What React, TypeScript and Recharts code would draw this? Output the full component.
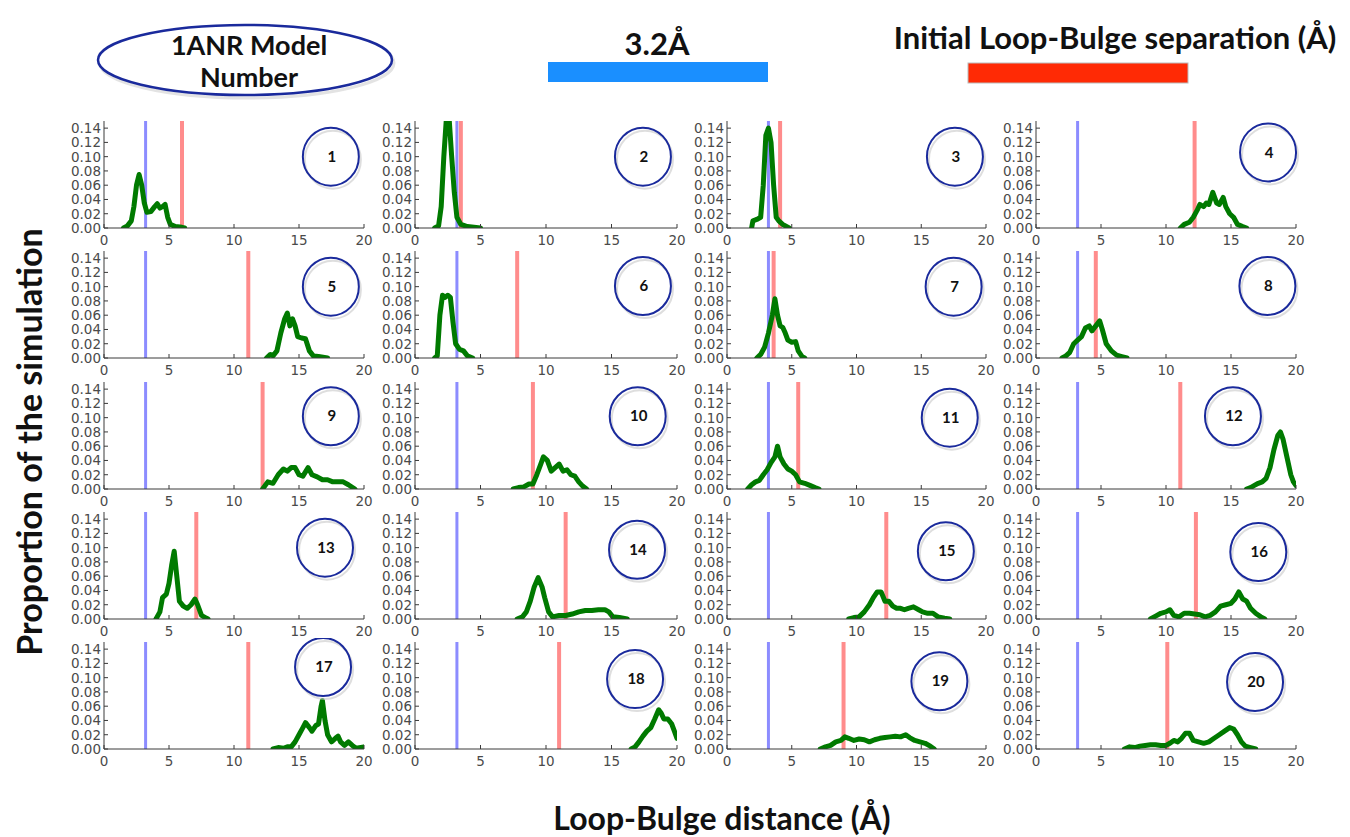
import React from 'react';
import { LineChart, Line, XAxis, YAxis, ReferenceLine, ReferenceDot } from 'recharts';

// distance (Å) vs proportion, one array per model
const p1 = [[1.5,0],[1.8,0.003],[2.1,0.01],[2.3,0.03],[2.5,0.06],[2.7,0.075],[2.9,0.06],[3.1,0.035],[3.3,0.022],[3.6,0.023],[3.9,0.03],[4.1,0.034],[4.3,0.028],[4.5,0.03],[4.7,0.033],[4.9,0.015],[5.1,0.005],[5.5,0.002],[6.0,0.001],[6.2,0]];
const p2 = [[1.5,0],[1.8,0.003],[2.0,0.03],[2.2,0.1],[2.4,0.155],[2.6,0.155],[2.8,0.1],[3.0,0.05],[3.2,0.015],[3.5,0.005],[4.0,0.002],[5.0,0]];
const p3 = [[1.9,0],[2.0,0.01],[2.3,0.012],[2.6,0.015],[2.8,0.06],[3.0,0.13],[3.2,0.14],[3.4,0.12],[3.6,0.06],[3.8,0.015],[4.0,0.01],[4.3,0.005],[4.8,0]];
const p4 = [[11.1,0],[11.4,0.005],[11.8,0.008],[12.1,0.015],[12.4,0.025],[12.6,0.033],[12.9,0.03],[13.1,0.035],[13.3,0.033],[13.6,0.05],[13.9,0.035],[14.1,0.033],[14.4,0.043],[14.6,0.03],[14.9,0.02],[15.2,0.015],[15.5,0.005],[15.9,0.002],[16.2,0]];
const p5 = [[12.5,0],[12.8,0.005],[13.0,0.003],[13.3,0.01],[13.6,0.035],[13.9,0.055],[14.1,0.063],[14.3,0.045],[14.5,0.055],[14.7,0.045],[14.9,0.03],[15.2,0.028],[15.5,0.027],[15.8,0.01],[16.1,0.003],[16.5,0.002],[17.2,0]];
const p6 = [[1.5,0],[1.7,0.003],[1.9,0.06],[2.1,0.088],[2.3,0.085],[2.5,0.088],[2.7,0.085],[2.9,0.05],[3.1,0.02],[3.4,0.012],[3.7,0.01],[4.0,0.003],[4.4,0]];
const p7 = [[2.3,0],[2.6,0.005],[2.9,0.015],[3.2,0.035],[3.5,0.06],[3.7,0.083],[3.9,0.06],[4.1,0.045],[4.3,0.043],[4.5,0.035],[4.7,0.025],[5.0,0.022],[5.3,0.023],[5.5,0.01],[5.8,0.002],[6.0,0]];
const p8 = [[2.0,0],[2.3,0.003],[2.6,0.008],[2.9,0.02],[3.2,0.025],[3.5,0.03],[3.8,0.042],[4.1,0.045],[4.3,0.038],[4.6,0.045],[4.9,0.052],[5.1,0.04],[5.4,0.02],[5.8,0.01],[6.2,0.004],[6.6,0.002],[7.0,0]];
const p9 = [[12.2,0],[12.6,0.01],[13.0,0.008],[13.4,0.02],[13.8,0.028],[14.1,0.025],[14.4,0.03],[14.7,0.03],[15.0,0.02],[15.3,0.018],[15.7,0.03],[16.0,0.02],[16.4,0.017],[16.8,0.013],[17.2,0.013],[17.6,0.01],[18.0,0.01],[18.4,0.01],[18.8,0.006],[19.3,0]];
const p10 = [[7.5,0],[7.9,0.002],[8.3,0.003],[8.7,0.007],[9.0,0.007],[9.3,0.02],[9.6,0.035],[9.8,0.045],[10.1,0.04],[10.4,0.025],[10.7,0.03],[11.0,0.035],[11.3,0.025],[11.6,0.027],[11.9,0.02],[12.2,0.018],[12.5,0.01],[12.8,0.004],[13.1,0]];
const p11 = [[1.6,0],[1.9,0.006],[2.2,0.01],[2.5,0.012],[2.8,0.02],[3.1,0.027],[3.4,0.037],[3.7,0.045],[3.9,0.06],[4.1,0.045],[4.4,0.035],[4.7,0.028],[5.0,0.025],[5.3,0.02],[5.6,0.01],[6.0,0.008],[6.4,0.005],[6.8,0.002],[7.1,0]];
const p12 = [[16.2,0],[16.5,0.002],[16.8,0.005],[17.1,0.008],[17.4,0.01],[17.7,0.015],[18.0,0.03],[18.3,0.055],[18.6,0.075],[18.8,0.08],[19.0,0.07],[19.3,0.045],[19.6,0.02],[19.8,0.01],[20.0,0.005]];
const p13 = [[4.0,0],[4.3,0.01],[4.5,0.03],[4.8,0.035],[5.0,0.05],[5.2,0.075],[5.4,0.095],[5.6,0.06],[5.8,0.025],[6.1,0.018],[6.4,0.015],[6.7,0.02],[7.0,0.028],[7.2,0.02],[7.5,0.005],[7.8,0.002],[8.0,0]];
const p14 = [[7.8,0],[8.2,0.003],[8.5,0.01],[8.8,0.025],[9.1,0.045],[9.4,0.058],[9.7,0.045],[9.9,0.03],[10.2,0.01],[10.5,0.003],[11.0,0.005],[11.5,0.005],[12.0,0.007],[12.5,0.01],[13.0,0.012],[13.5,0.012],[14.0,0.013],[14.5,0.013],[14.8,0.01],[15.1,0.003],[15.6,0.002],[16.2,0]];
const p15 = [[9.4,0],[9.8,0.002],[10.2,0.003],[10.6,0.01],[11.0,0.02],[11.3,0.03],[11.6,0.038],[11.9,0.038],[12.2,0.025],[12.5,0.025],[12.8,0.018],[13.1,0.015],[13.4,0.015],[13.7,0.013],[14.0,0.015],[14.4,0.017],[14.8,0.013],[15.1,0.01],[15.5,0.008],[15.9,0.008],[16.3,0.003],[16.8,0.001],[17.2,0]];
const p16 = [[8.8,0],[9.2,0.004],[9.6,0.008],[10.0,0.01],[10.3,0.013],[10.6,0.005],[11.0,0.003],[11.4,0.008],[11.8,0.008],[12.2,0.007],[12.6,0.006],[13.0,0.003],[13.4,0.005],[13.8,0.01],[14.2,0.018],[14.6,0.02],[15.0,0.022],[15.3,0.028],[15.6,0.038],[15.9,0.028],[16.2,0.025],[16.5,0.015],[16.9,0.008],[17.3,0.003],[17.6,0]];
const p17 = [[13.0,0],[13.4,0.002],[13.8,0.001],[14.1,0.003],[14.4,0.003],[14.7,0.01],[15.0,0.02],[15.3,0.03],[15.5,0.037],[15.8,0.03],[16.0,0.025],[16.3,0.033],[16.5,0.035],[16.7,0.06],[16.8,0.068],[17.0,0.04],[17.2,0.02],[17.5,0.01],[17.8,0.015],[18.0,0.018],[18.2,0.01],[18.5,0.005],[18.8,0.01],[19.1,0.005],[19.4,0.001],[20.0,0.003]];
const p18 = [[16.5,0],[16.8,0.003],[17.1,0.01],[17.4,0.018],[17.7,0.025],[18.0,0.03],[18.3,0.042],[18.6,0.055],[18.8,0.05],[19.0,0.042],[19.3,0.042],[19.6,0.035],[19.8,0.025],[20.0,0.015]];
const p19 = [[7.2,0],[7.6,0.003],[8.0,0.005],[8.4,0.01],[8.8,0.012],[9.1,0.017],[9.4,0.015],[9.8,0.012],[10.2,0.014],[10.6,0.013],[11.0,0.01],[11.4,0.013],[11.8,0.015],[12.2,0.016],[12.6,0.017],[13.0,0.018],[13.4,0.017],[13.8,0.02],[14.1,0.016],[14.5,0.012],[14.9,0.01],[15.3,0.008],[15.7,0.004],[16.0,0]];
const p20 = [[6.8,0],[7.2,0.003],[7.6,0.002],[8.0,0.004],[8.4,0.005],[8.8,0.006],[9.2,0.006],[9.6,0.005],[10.0,0.005],[10.3,0.008],[10.6,0.012],[10.9,0.01],[11.2,0.015],[11.5,0.022],[11.8,0.022],[12.1,0.012],[12.5,0.01],[12.9,0.008],[13.3,0.01],[13.7,0.015],[14.1,0.02],[14.5,0.025],[14.9,0.03],[15.2,0.028],[15.5,0.02],[15.8,0.01],[16.1,0.004],[16.5,0.002],[16.9,0]];

const curves = [p1, p2, p3, p4, p5, p6, p7, p8, p9, p10, p11, p12, p13, p14, p15, p16, p17, p18, p19, p20];

// initial loop-bulge separation per model (red line)
const initialSep = [6.0, 3.5, 4.1, 12.2, 11.1, 7.8, 3.6, 4.6, 12.2, 9.0, 5.5, 11.1, 7.1, 11.5, 12.3, 12.3, 11.1, 11.0, 9.0, 10.1];
const CUTOFF = 3.2;

// model-number badge centres, in data units
const badgeX = [17.45, 17.4, 17.6, 17.85, 17.45, 17.4, 17.5, 17.8, 17.45, 17.0, 17.2, 15.15, 17.0, 16.95, 16.9, 17.1, 16.85, 16.8, 16.4, 16.85];
const badgeY = [0.1, 0.1, 0.1, 0.106, 0.1, 0.101, 0.1, 0.101, 0.102, 0.102, 0.1, 0.102, 0.1, 0.097, 0.095, 0.094, 0.115, 0.098, 0.095, 0.094];

const xTicks = [0, 5, 10, 15, 20];
const yTicks = [0, 0.02, 0.04, 0.06, 0.08, 0.1, 0.12, 0.14];

const colLeft = [104, 415, 727, 1036];
const colWidth = [260, 262, 259, 260];
const rowTop = [121, 251, 382, 512, 642];
const PLOT_H = 107;
const LEFT_W = 46;
const RIGHT_PAD = 14;

const FRAME = '#3a3a3a';
const TICK_FONT = 'DejaVu Sans, sans-serif';
const HEAD_FONT = 'Lato, "Open Sans", sans-serif';

const LeftTick = ({ x, y, payload }: any) => (
  <g>
    <line x1={x} y1={y} x2={x + 4} y2={y} stroke={FRAME} />
    <text x={x - 3} y={y} dy="0.36em" textAnchor="end" fontSize={13.5} fill="#4a4a4a" fontFamily={TICK_FONT}>
      {Number(payload.value).toFixed(2)}
    </text>
  </g>
);

const BottomTick = ({ x, y, payload }: any) => (
  <g>
    <line x1={x} y1={y} x2={x} y2={y - 4} stroke={FRAME} />
    <text x={x} y={y + 17} textAnchor="middle" fontSize={13.5} fill="#4a4a4a" fontFamily={TICK_FONT}>
      {payload.value}
    </text>
  </g>
);

const TopTick = ({ x, y }: any) => <line x1={x} y1={y} x2={x} y2={y + 4} stroke={FRAME} />;
const RightTick = ({ x, y }: any) => <line x1={x} y1={y} x2={x - 4} y2={y} stroke={FRAME} />;

const Badge = (label: number) => (props: any) => {
  const { cx, cy } = props;
  return (
    <g>
      <ellipse cx={cx + 2} cy={cy + 3} rx={28} ry={29} fill="none" stroke="#c8c8c8" strokeWidth={2} opacity={0.6} />
      <ellipse cx={cx} cy={cy} rx={28} ry={29} fill="none" stroke="#1a2a9c" strokeWidth={2} />
      <text x={cx + 1} y={cy} dy="0.35em" textAnchor="middle" fontSize={15} fontWeight={700} fill="#111" fontFamily={HEAD_FONT}>
        {label}
      </text>
    </g>
  );
};

const Panel = ({ idx }: { idx: number }) => {
  const col = idx % 4;
  const row = Math.floor(idx / 4);
  const data = curves[idx].map(([x, y]) => ({ x, y }));
  const w = colWidth[col];
  return (
    <div style={{ position: 'absolute', left: colLeft[col] - LEFT_W, top: rowTop[row] - 4 }}>
      <LineChart width={LEFT_W + w + RIGHT_PAD} height={4 + PLOT_H + 22} data={data}
        margin={{ top: 4, right: RIGHT_PAD, bottom: 0, left: 0 }}>
        <XAxis dataKey="x" type="number" domain={[0, 20]} ticks={xTicks} interval={0} allowDataOverflow
          height={22} tickSize={0} tickMargin={0} tickLine={false} stroke={FRAME} tick={<BottomTick />} />
        <XAxis xAxisId="top" orientation="top" type="number" domain={[0, 20]} ticks={xTicks} interval={0}
          height={0} tickSize={0} tickMargin={0} tickLine={false} stroke={FRAME} tick={<TopTick />} />
        <YAxis type="number" domain={[0, 0.15]} ticks={yTicks} interval={0} allowDataOverflow
          width={LEFT_W} tickSize={0} tickMargin={0} tickLine={false} stroke={FRAME} tick={<LeftTick />} />
        <YAxis yAxisId="right" orientation="right" type="number" domain={[0, 0.15]} ticks={yTicks} interval={0}
          width={0} tickSize={0} tickMargin={0} tickLine={false} stroke={FRAME} tick={<RightTick />} />
        <ReferenceLine x={CUTOFF} stroke="#8c8cff" strokeWidth={3} />
        <ReferenceLine x={initialSep[idx]} stroke="#ff8c8c" strokeWidth={4} />
        <Line dataKey="y" type="linear" stroke="#007a00" strokeWidth={5} dot={false}
          strokeLinejoin="round" strokeLinecap="round" isAnimationActive={false} />
        <ReferenceDot x={badgeX[idx]} y={badgeY[idx]} ifOverflow="visible" shape={Badge(idx + 1)} />
      </LineChart>
    </div>
  );
};

export default function App() {
  return (
    <div style={{ position: 'absolute', left: 0, top: 0, width: 1350, height: 837, background: '#fff', overflow: 'hidden' }}>
      <svg width={1350} height={837} style={{ position: 'absolute', left: 0, top: 0 }}>
        <g fontFamily={HEAD_FONT} fontWeight={700} fill="#111">
          <ellipse cx={247} cy={63} rx={147} ry={35} fill="none" stroke="#d0d0d0" strokeWidth={3} opacity={0.6} />
          <ellipse cx={245} cy={60} rx={147} ry={35} fill="#fff" stroke="#1a2a9c" strokeWidth={2.5} />
          <text x={249} y={55} textAnchor="middle" fontSize={27}>1ANR Model</text>
          <text x={249} y={87} textAnchor="middle" fontSize={27}>Number</text>
          <text x={657} y={55} textAnchor="middle" fontSize={31}>3.2Å</text>
          <rect x={548} y={62} width={220} height={20} fill="#1a8fff" />
          <text x={1115} y={49} textAnchor="middle" fontSize={31}>Initial Loop-Bulge separation (Å)</text>
          <rect x={968} y={63} width={220} height={20} fill="#ff2a05" stroke="#bbb" strokeWidth={1} />
          <text transform="translate(42,442) rotate(-90)" textAnchor="middle" fontSize={34}>Proportion of the simulation</text>
          <text x={722} y={830} textAnchor="middle" fontSize={32}>Loop-Bulge distance (Å)</text>
        </g>
      </svg>
      {curves.map((_, i) => <Panel key={i} idx={i} />)}
    </div>
  );
}
